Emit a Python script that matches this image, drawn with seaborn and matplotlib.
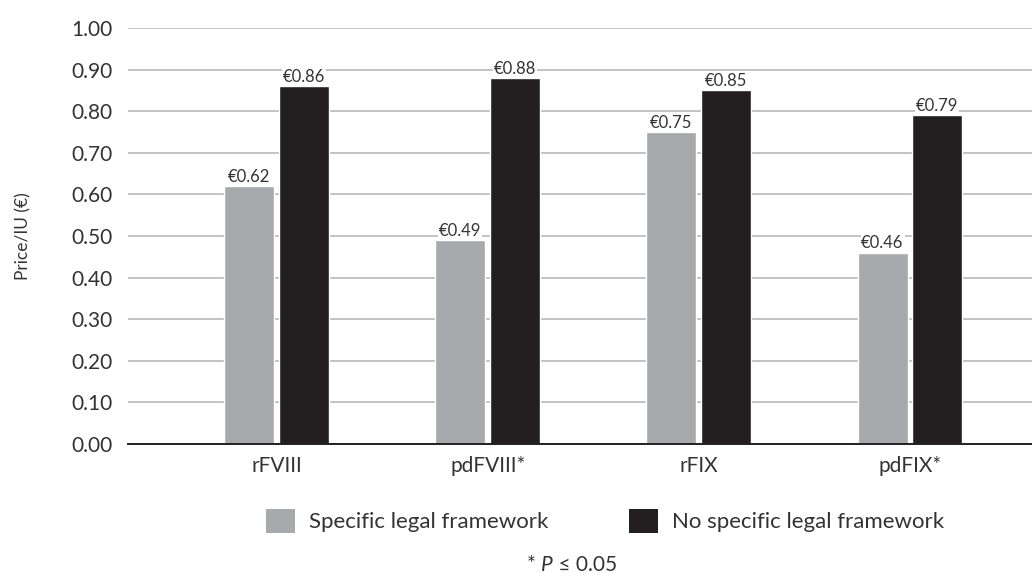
import matplotlib
matplotlib.use("Agg")
import matplotlib.pyplot as plt
from matplotlib.patches import Patch
import seaborn as sns
import pandas as pd

categories = ["rFVIII", "pdFVIII*", "rFIX", "pdFIX*"]
groups = ["Specific legal framework", "No specific legal framework"]
specific_values = [0.62, 0.49, 0.75, 0.46]
no_specific_values = [0.86, 0.88, 0.85, 0.79]
y_ticks = [0.0, 0.1, 0.2, 0.3, 0.4, 0.5, 0.6, 0.7, 0.8, 0.9, 1.0]

GREY = "#a7a9ac"
BLACK = "#231f20"
TEXT = "#333333"

sns.set_theme(style="white")
plt.rcParams["font.family"] = ["Lato", "DejaVu Sans"]

df = pd.DataFrame({
    "category": categories * 2,
    "group": [groups[0]] * 4 + [groups[1]] * 4,
    "value": specific_values + no_specific_values,
})

W, H = 1032, 574
fig = plt.figure(figsize=(W / 100, H / 100), dpi=100)
ax = fig.add_axes([128 / W, 130 / H, 1 - 128 / W, 416 / H])

sns.barplot(data=df, x="category", y="value", hue="group", hue_order=groups,
            order=categories, palette=[GREY, BLACK], width=0.52, gap=0.09,
            saturation=1, errorbar=None, legend=False, ax=ax)

for container in ax.containers:
    vals = [b.get_height() for b in container]
    ax.bar_label(container, labels=[f"€{v:.2f}" for v in vals], padding=1,
                 fontsize=12, color=TEXT,
                 bbox=dict(facecolor="white", edgecolor="none", pad=0.6))

ax.set_ylim(0, 1.0)
ax.set_xlim(-0.704, 3.578)
ax.set_yticks(y_ticks)
ax.set_yticklabels([f"{t:.2f}" for t in y_ticks])
ax.yaxis.grid(True, color="#b3b3b3", linewidth=1.1)
ax.set_axisbelow(True)
for s in ["top", "right", "left"]:
    ax.spines[s].set_visible(False)
ax.spines["bottom"].set_color(BLACK)
ax.spines["bottom"].set_linewidth(1.4)
ax.tick_params(axis="y", length=0, pad=11, labelsize=15, labelcolor=TEXT)
ax.tick_params(axis="x", length=0, pad=9, labelsize=15, labelcolor=TEXT)
ax.set_xlabel("")
ax.set_ylabel("")

fig.text(23 / W, 1 - 236 / H, "Price/IU (€)", rotation=90, ha="center",
         va="center", fontsize=12.5, color=TEXT)

handles = [Patch(facecolor=GREY, edgecolor="none"),
           Patch(facecolor=BLACK, edgecolor="none")]
fig.legend(handles, groups, loc="center", bbox_to_anchor=(605 / W, 1 - 521 / H),
           ncol=2, frameon=False, fontsize=16, handlelength=1.3, handleheight=1.3,
           handletextpad=0.63, columnspacing=3.6, labelcolor=TEXT,
           borderpad=0, borderaxespad=0)

# footnote: "* P ≤ 0.05" with italic P
renderer = fig.canvas.get_renderer()
base_y = 1 - 571 / H
x = 527 / W
for piece, style in [("* ", "normal"), ("P", "italic"), (" ≤ 0.05", "normal")]:
    t = fig.text(x, base_y, piece, ha="left", va="baseline", fontsize=15,
                 color=TEXT, style=style)
    bb = t.get_window_extent(renderer=renderer)
    x = bb.x1 / W

fig.savefig("out.png", dpi=100)
